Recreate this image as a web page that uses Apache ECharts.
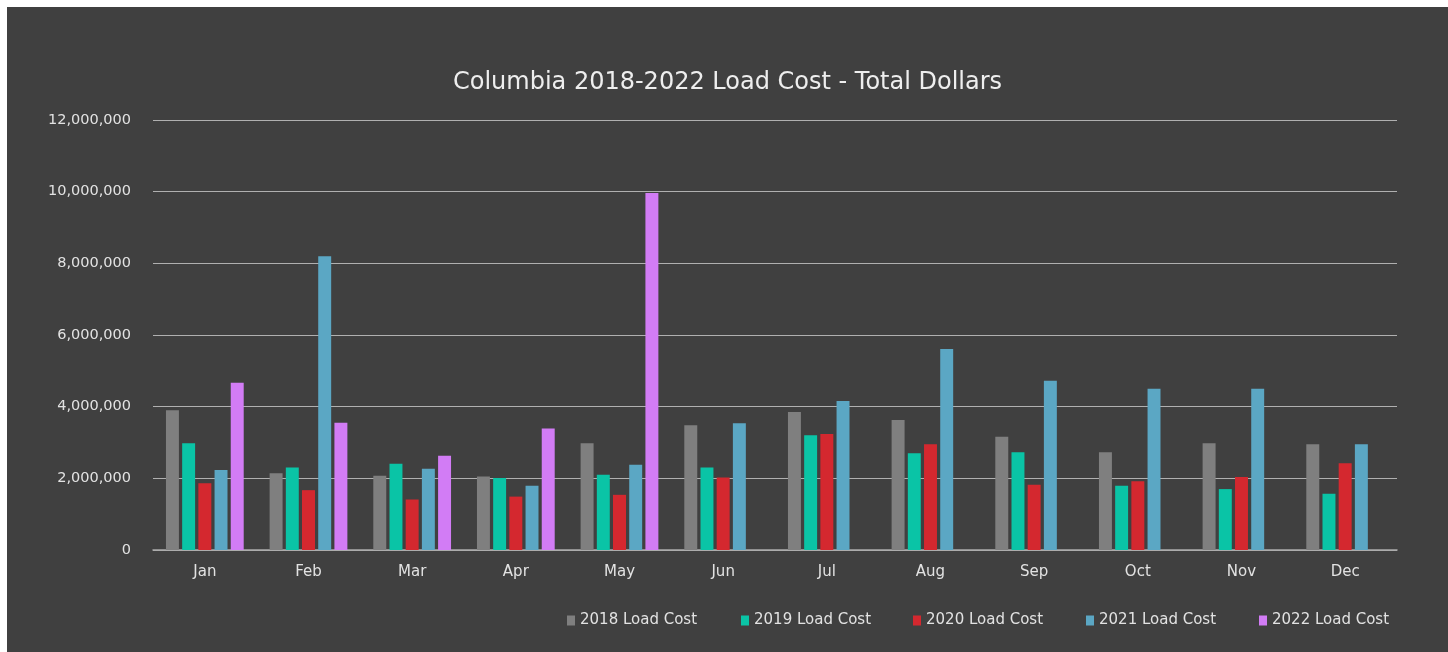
<!DOCTYPE html>
<html>
<head>
<meta charset="utf-8">
<script src="https://cdn.jsdelivr.net/npm/echarts@6/dist/echarts.min.js"></script>
<style>
html,body{margin:0;padding:0;background:#ffffff;width:1448px;height:652px;overflow:hidden;}
#c{position:absolute;left:7px;top:7px;width:1441px;height:645px;}
</style>
</head>
<body>
<div id="c"></div>
<script>
const titleText = 'Columbia 2018-2022 Load Cost - Total Dollars';
const months = ['Jan','Feb','Mar','Apr','May','Jun','Jul','Aug','Sep','Oct','Nov','Dec'];
const seriesNames = ['2018 Load Cost','2019 Load Cost','2020 Load Cost','2021 Load Cost','2022 Load Cost'];
const cost2018 = [3900000,2140000,2070000,2050000,2980000,3480000,3850000,3630000,3160000,2730000,2980000,2950000];
const cost2019 = [2980000,2300000,2410000,2010000,2100000,2300000,3200000,2700000,2730000,1790000,1700000,1570000];
const cost2020 = [1860000,1670000,1410000,1490000,1540000,2020000,3240000,2950000,1820000,1920000,2040000,2420000];
const cost2021 = [2230000,8200000,2270000,1790000,2380000,3540000,4160000,5610000,4720000,4500000,4500000,2950000];
const cost2022 = [4670000,3550000,2630000,3390000,9960000,null,null,null,null,null,null,null];
const yTicks = [0,2000000,4000000,6000000,8000000,10000000,12000000];
const colors = ['#7f7f7f','#0ac4a6','#d4282f','#5ba7c4','#d27cf5'];

const allData = [cost2018,cost2019,cost2020,cost2021,cost2022];
const font = 'DejaVu Sans, sans-serif';
const chart = echarts.init(document.getElementById('c'));
const legendLefts = [555,729,901,1074,1247];
chart.setOption({
  backgroundColor:'#404040',
  animation:false,
  color:colors,
  title:{text:titleText,left:'center',top:59,textStyle:{color:'#eeeeee',fontSize:24,fontWeight:'normal',fontFamily:font}},
  legend: seriesNames.map((n,i)=>({
    data:[n], left:legendLefts[i], top:601, icon:'rect', itemWidth:8, itemHeight:10,
    textStyle:{color:'#e2e2e2',fontSize:15,fontFamily:font}, selectedMode:false
  })),
  grid:{left:146,right:51,top:113,bottom:102},
  xAxis:{type:'category',data:months,
    axisLine:{lineStyle:{color:'#aaaaaa',width:1.5}},axisTick:{show:false},
    axisLabel:{color:'#e2e2e2',fontSize:15,fontFamily:font,margin:15}},
  yAxis:{type:'value',min:yTicks[0],max:yTicks[yTicks.length-1],interval:2000000,
    axisLine:{show:false},axisTick:{show:false},
    splitLine:{lineStyle:{color:'#b0b0b0',width:1.2}},
    axisLabel:{color:'#e2e2e2',fontSize:14.5,fontFamily:font,margin:22,
      formatter:v=>v.toLocaleString('en-US')}},
  series: seriesNames.map((n,i)=>({
    name:n,type:'bar',data:allData[i],barGap:'25%',barCategoryGap:'25%',
    itemStyle:{color:colors[i]}
  }))
});
</script>
</body>
</html>
